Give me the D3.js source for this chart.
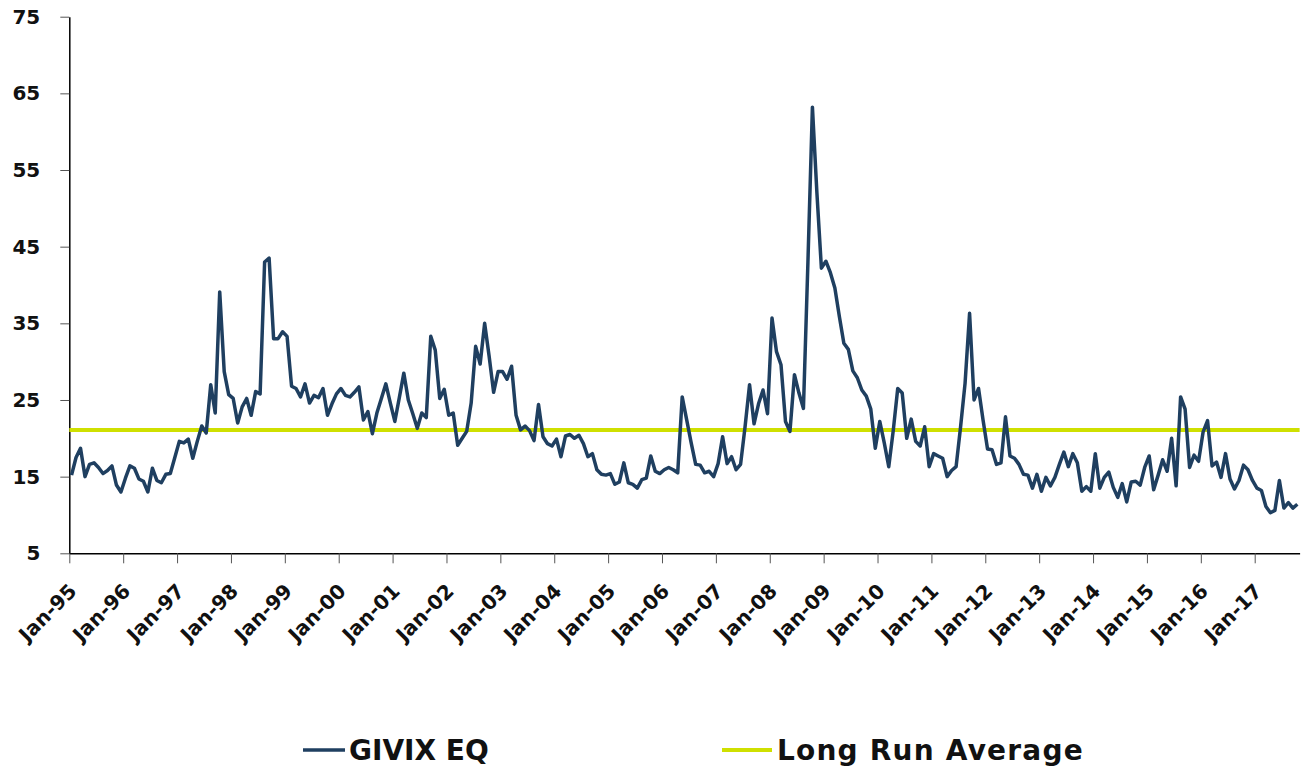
<!DOCTYPE html>
<html>
<head>
<meta charset="utf-8">
<script src="https://cdn.jsdelivr.net/npm/d3@7"></script>
<style>
	body { margin: 0; background: #fff; }
	svg { display: block; font-family: "DejaVu Sans", Verdana, sans-serif; font-weight: bold; }
</style>
</head>
<body>
<div id="chart"></div>
<script>

// Monthly values, Jan-95 .. Oct-17
var givix = [
	15.2, 17.5, 18.7, 15.0, 16.6, 16.8, 16.2, 15.4, 15.8, 16.4, 13.9, 13.0,
	14.8, 16.4, 16.1, 14.7, 14.4, 13.0, 16.1, 14.5, 14.2, 15.3, 15.4, 17.5,
	19.6, 19.4, 19.9, 17.4, 19.6, 21.6, 20.7, 27.0, 23.3, 39.1, 28.7, 25.7,
	25.2, 22.0, 24.1, 25.2, 23.0, 26.1, 25.8, 43.0, 43.5, 33.0, 33.0, 33.9,
	33.3, 26.8, 26.5, 25.4, 27.1, 24.6, 25.6, 25.3, 26.5, 23.0, 24.5, 25.8,
	26.5, 25.6, 25.4, 26.0, 26.7, 22.4, 23.5, 20.6, 23.3, 25.2, 27.1, 24.6,
	22.2, 25.3, 28.5, 25.0, 23.2, 21.3, 23.3, 22.7, 33.3, 31.5, 25.2, 26.4,
	23.0, 23.3, 19.1, 20.0, 20.9, 24.6, 32.0, 29.7, 35.0, 30.7, 26.0, 28.7,
	28.7, 27.7, 29.4, 23.0, 21.1, 21.6, 21.0, 19.7, 24.4, 20.2, 19.3, 19.0,
	19.9, 17.6, 20.3, 20.5, 20.0, 20.4, 19.3, 17.6, 18.0, 15.9, 15.3, 15.2,
	15.4, 14.0, 14.3, 16.8, 14.2, 14.0, 13.5, 14.6, 14.8, 17.7, 15.7, 15.4,
	15.9, 16.2, 15.9, 15.5, 25.4, 22.4, 19.4, 16.6, 16.5, 15.5, 15.7, 15.0,
	16.7, 20.2, 16.7, 17.6, 15.9, 16.6, 21.5, 27.0, 21.9, 24.5, 26.3, 23.2,
	35.7, 31.3, 29.6, 22.2, 20.9, 28.3, 25.9, 23.9, 43.0, 63.2, 52.0, 42.2,
	43.1, 41.6, 39.6, 35.9, 32.4, 31.6, 28.8, 27.9, 26.3, 25.5, 23.8, 18.7,
	22.2, 19.4, 16.3, 21.0, 26.5, 25.9, 20.0, 22.5, 19.6, 19.0, 21.5, 16.3,
	18.0, 17.7, 17.4, 15.0, 15.8, 16.3, 21.5, 27.2, 36.3, 25.0, 26.5, 22.4,
	18.6, 18.5, 16.6, 16.8, 22.8, 17.7, 17.4, 16.6, 15.3, 15.2, 13.5, 15.3,
	13.1, 14.9, 13.8, 14.9, 16.6, 18.2, 16.3, 18.0, 16.8, 13.1, 13.7, 13.1,
	18.0, 13.5, 14.9, 15.6, 13.6, 12.3, 14.1, 11.7, 14.3, 14.4, 13.9, 16.2,
	17.7, 13.3, 15.2, 17.2, 15.7, 20.0, 13.8, 25.4, 23.8, 16.2, 17.8, 17.0,
	20.8, 22.3, 16.4, 16.9, 14.9, 18.0, 14.7, 13.4, 14.5, 16.5, 15.9, 14.5,
	13.5, 13.2, 11.1, 10.3, 10.6, 14.5, 10.9, 11.6, 10.9, 11.4
];

var longRunAverage = 21.1;

var tickLabels = [
	"Jan-95", "Jan-96", "Jan-97", "Jan-98", "Jan-99", "Jan-00", "Jan-01", "Jan-02",
	"Jan-03", "Jan-04", "Jan-05", "Jan-06", "Jan-07", "Jan-08", "Jan-09", "Jan-10",
	"Jan-11", "Jan-12", "Jan-13", "Jan-14", "Jan-15", "Jan-16", "Jan-17"
];

var yTicks = [5, 15, 25, 35, 45, 55, 65, 75];

var seriesNames = ["GIVIX EQ", "Long Run Average"];
var colors = ["#1f3f60", "#cfe000"];

var font = "'DejaVu Sans', Verdana, sans-serif";
var width = 1301;
var height = 772;
var margin = {top: 16.7, right: 1.4, bottom: 218.7, left: 69.3};

var svg = d3.select("#chart")
	.append("svg")
	.attr("width", width)
	.attr("height", height);

// Category axis: each month is a slot, ticks sit on slot edges
var x = d3.scaleLinear()
	.domain([0, givix.length])
	.range([margin.left, width - margin.right]);

var y = d3.scaleLinear()
	.domain([5, 75])
	.range([height - margin.bottom, margin.top]);

// axes
var xAxis = svg.append("g")
	.attr("transform", "translate(0," + (height - margin.bottom) + ")")
	.call(d3.axisBottom(x)
		.tickValues(tickLabels.map((d, i) => i * 12))
		.tickFormat((d, i) => tickLabels[i])
		.tickSize(10)
		.tickSizeOuter(0))
	.attr("font-family", font)
	.attr("font-size", 20);

xAxis.select(".domain").attr("stroke", "#000").attr("stroke-width", 1.5);
xAxis.selectAll(".tick line").attr("stroke", "#555");
xAxis.selectAll(".tick text")
	.attr("x", 0)
	.attr("y", 0)
	.attr("dy", 0)
	.attr("text-anchor", "end")
	.attr("transform", "translate(8,39) rotate(-45)")
	.attr("fill", "#111");

var yAxis = svg.append("g")
	.attr("transform", "translate(" + margin.left + ",0)")
	.call(d3.axisLeft(y)
		.tickValues(yTicks)
		.tickSize(9)
		.tickPadding(20)
		.tickSizeOuter(0))
	.attr("font-family", font)
	.attr("font-size", 20);

yAxis.select(".domain").attr("stroke", "#000").attr("stroke-width", 1.5);
yAxis.selectAll(".tick line").attr("stroke", "#555");
yAxis.selectAll(".tick text").attr("fill", "#111");

// long run average
svg.append("line")
	.attr("x1", x(0))
	.attr("x2", x(givix.length))
	.attr("y1", y(longRunAverage))
	.attr("y2", y(longRunAverage))
	.style("stroke", colors[1])
	.style("stroke-width", 4);

// index line
var line = d3.line()
	.x((d, i) => x(i + 0.5))
	.y(d => y(d));

svg.append("path")
	.datum(givix)
	.attr("d", line)
	.style("fill", "none")
	.style("stroke", colors[0])
	.style("stroke-width", 3.5)
	.style("stroke-linejoin", "round");

// legend
var legendX = [303, 722];
var legendY = 750;

var legend = svg.selectAll(".legendItem")
	.data(seriesNames)
	.enter()
	.append("g")
	.attr("class", "legendItem")
	.attr("transform", (d, i) => "translate(" + legendX[i] + "," + legendY + ")");

legend.append("line")
	.attr("x1", 0)
	.attr("x2", (d, i) => i == 0 ? 42 : 50)
	.attr("y1", 0)
	.attr("y2", 0)
	.style("stroke", (d, i) => colors[i])
	.style("stroke-width", (d, i) => i == 0 ? 3.5 : 4);

legend.append("text")
	.attr("x", (d, i) => i == 0 ? 46 : 55)
	.attr("y", 0)
	.attr("dy", "0.36em")
	.attr("font-size", "28px")
	.attr("letter-spacing", (d, i) => i == 0 ? 0 : "1.2px")
	.attr("fill", "#111")
	.text(d => d);

</script>
</body>
</html>
